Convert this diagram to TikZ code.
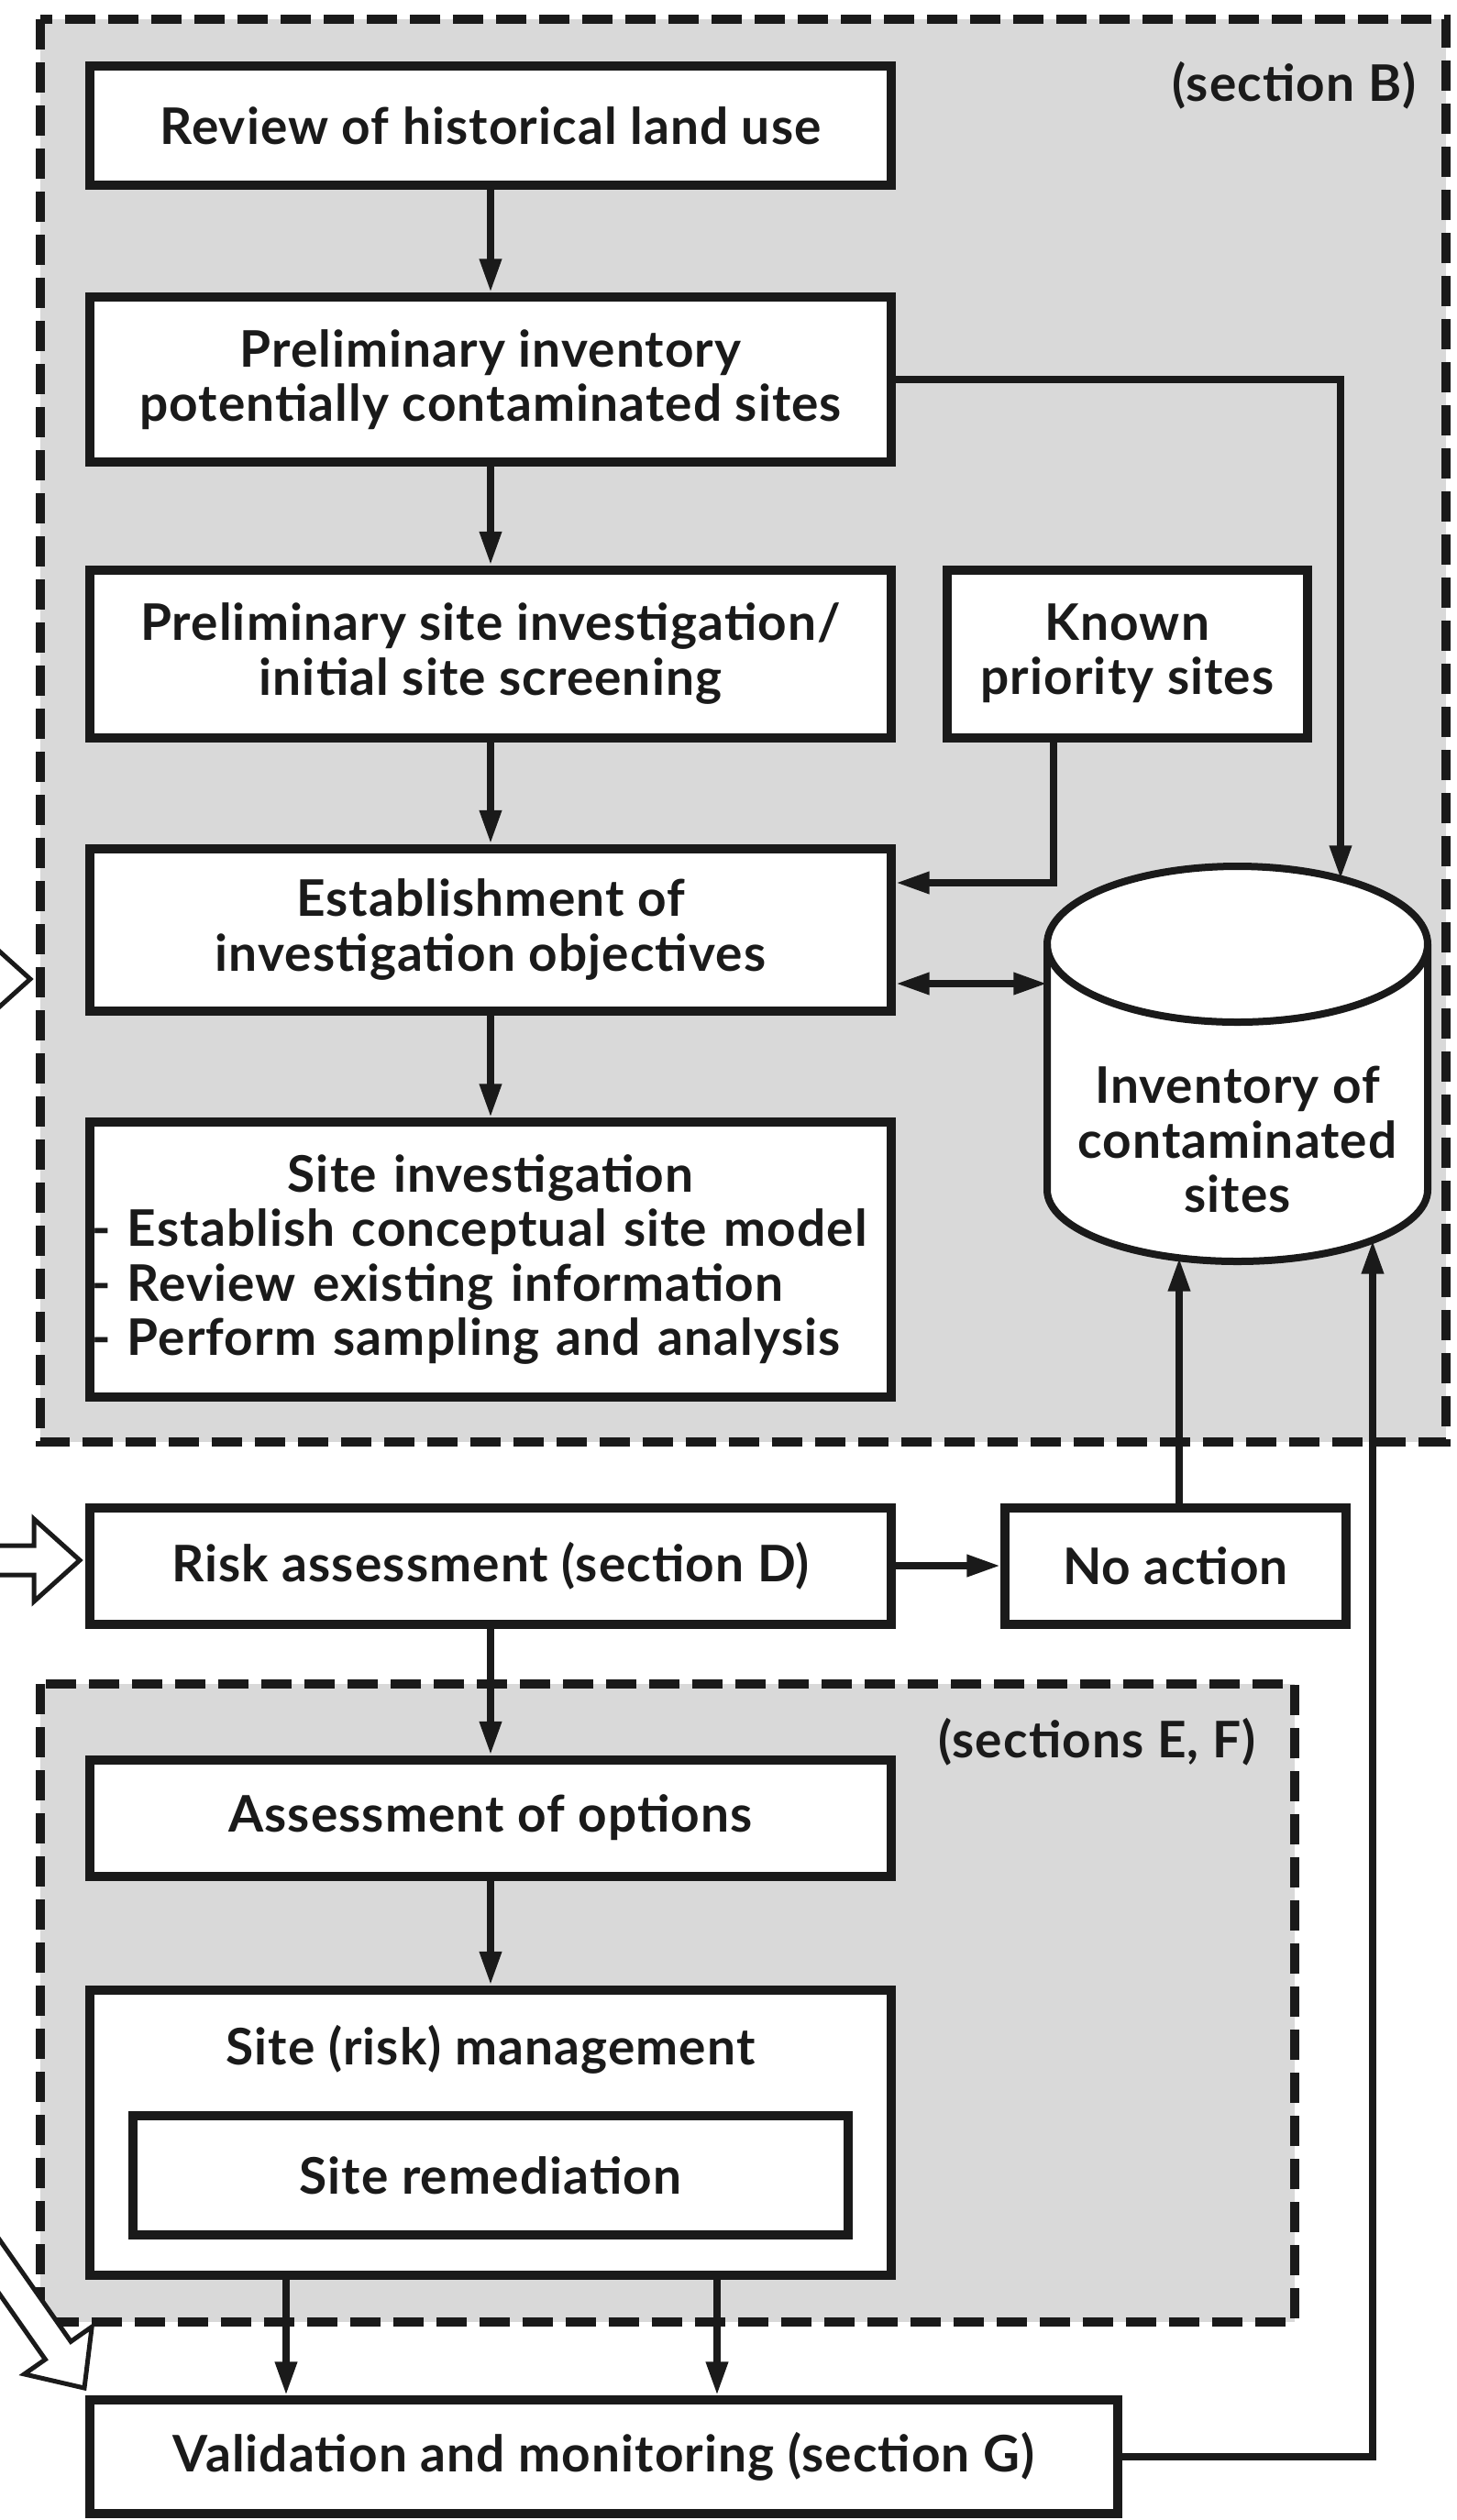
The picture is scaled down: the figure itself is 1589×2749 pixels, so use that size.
\documentclass[tikz,border=0pt]{standalone}
\usepackage{fontspec}
\setmainfont{Lato}[LetterSpace=2]
\usetikzlibrary{arrows.meta,calc}
\definecolor{regiongray}{RGB}{217,217,217}
\definecolor{ink}{RGB}{26,26,26}
\newcommand\boxfont{\fontsize{16.5}{17.8}\selectfont\bfseries}
\begin{document}
\begin{tikzpicture}[x=0.3pt,y=-0.3pt,
  box/.style={draw=ink, line width=3pt, fill=white, minimum width=262.2pt, inner sep=0pt, align=center, font=\boxfont, text=ink},
  txt/.style={font=\boxfont, text=ink, inner sep=0pt, align=center},
  conn/.style={draw=ink, line width=2.3pt, -{Triangle[length=11pt,width=6.8pt]}},
  region/.style={fill=regiongray, draw=ink, line width=3pt, dash pattern=on 9.9pt off 4.2pt},
  hollow/.style={fill=white, draw=ink, line width=1.5pt, line join=miter}]
\clip (0,0) rectangle (1589,2749);
\fill[white] (0,0) rectangle (1589,2749);
% regions
\path[region] (44,21) rectangle (1577,1573);
\path[region] (44,1837) rectangle (1412,2533);
\node[txt, anchor=east] (secB) at (1545,93) {(section B)};
\node[txt, anchor=east] (secEF) at (1370,1900) {(sections E, F)};
% boxes
\node[box, minimum height=39pt] (b1) at (535,137) {Review of historical land use};
\node[box, minimum height=54pt] (b2) at (535,414) {Preliminary inventory\\potentially contaminated sites};
\node[box, minimum height=54.9pt] (b3) at (535,713) {Preliminary site investigation/\\initial site screening};
\node[box, minimum width=117.9pt, minimum height=54.9pt] (known) at (1229.5,713) {Known\\priority sites};
\node[box, minimum height=53.1pt] (b4) at (535,1014) {Establishment of\\investigation objectives};
\node[box, minimum height=90pt, text width=261pt, align=left] (b5) at (535,1374) {\centering Site investigation\par\raggedright - Establish conceptual site model\\- Review existing information\\- Perform sampling and analysis};
\node[box, minimum height=38.1pt] (risk) at (535,1708) {Risk assessment (section D)};
\node[box, minimum width=111.6pt, minimum height=38.1pt] (noact) at (1282,1708) {No action};
\node[box, minimum height=38.1pt] (assess) at (535,1983) {Assessment of options};
\node[box, minimum height=93.3pt] (mgmt) at (535,2326) {};
\node[txt] (mgmtlabel) at (535,2236) {Site (risk) management};
\node[box, minimum width=234pt, minimum height=39pt] (remed) at (535,2373) {Site remediation};
\node[box, minimum width=336.3pt, minimum height=37.2pt] (valid) at (658.5,2680) {Validation and monitoring (section G)};
% cylinder
\filldraw[fill=white, draw=ink, line width=2.4pt] (1142,1030) -- (1142,1298) arc[start angle=180, end angle=360, x radius=62.25pt, y radius=23.4pt] -- (1557,1030) arc[start angle=0, end angle=180, x radius=62.25pt, y radius=25.5pt] -- cycle;
\draw[ink, line width=2.4pt] (1142,1030) arc[start angle=180, end angle=360, x radius=62.25pt, y radius=25.5pt];
\node[txt] (inv) at (1349.5,1243) {Inventory of\\contaminated\\sites};
\coordinate (cyltop) at (1462,959);
\coordinate (cylleft) at (1142,1073);
\coordinate (cylbotA) at (1286,1372);
\coordinate (cylbotB) at (1497,1353);
% connectors
\draw[conn] (b1) -- (b2);
\draw[conn] (b2) -- (b3);
\draw[conn] (b3) -- (b4);
\draw[conn] (b4) -- (b5);
\draw[conn] (b2.east) -| (cyltop);
\coordinate (kA) at ($(known.south)+(-80.5,0)$);
\coordinate (kB) at ($(b4.east)+(0,-51)$);
\draw[conn] (kA) |- (kB);
\coordinate (dA) at ($(b4.east)+(0,59)$);
\draw[conn, {Triangle[length=11pt,width=6.8pt]}-{Triangle[length=11pt,width=6.8pt]}] (dA) -- (cylleft);
\draw[conn] (risk) -- (noact);
\draw[conn] (noact.north -| cylbotA) -- (cylbotA);
\draw[conn] (risk) -- (assess);
\draw[conn] (assess) -- (mgmt);
\coordinate (mA) at ($(mgmt.south)+(-223,0)$);
\coordinate (mB) at ($(mgmt.south)+(247,0)$);
\draw[conn] (mA) -- (mA |- valid.north);
\draw[conn] (mB) -- (mB |- valid.north);
\draw[conn] (valid.east) -| (cylbotB);
% hollow input arrows
\coordinate (inB) at (33,1068);
\coordinate (inD) at (87,1702);
\coordinate (inG) at (92,2605);
\draw[hollow, shift={(inB)}] (0,0) -- (-50,-45) -- (-50,-16) -- (-400,-16) -- (-400,16) -- (-50,16) -- (-50,45) -- cycle;
\draw[hollow, shift={(inD)}] (0,0) -- (-50,-45) -- (-50,-16) -- (-400,-16) -- (-400,16) -- (-50,16) -- (-50,45) -- cycle;
\draw[hollow, shift={(inG)}, rotate=-55] (0,0) -- (-50,-45) -- (-50,-17) -- (-400,-17) -- (-400,17) -- (-50,17) -- (-50,45) -- cycle;
\end{tikzpicture}
\end{document}
